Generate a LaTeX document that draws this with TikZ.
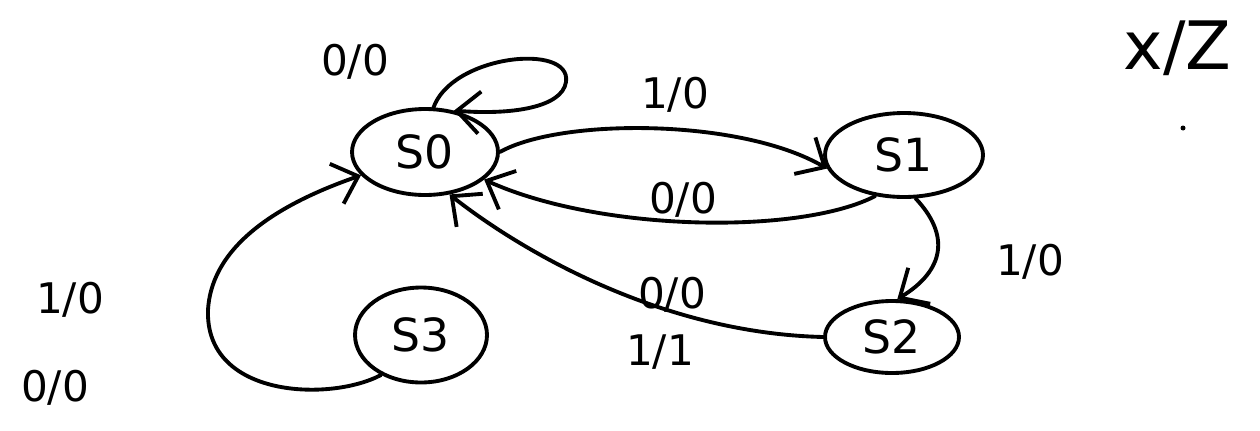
\documentclass[tikz,border=0pt]{standalone}
\usepackage{fontspec}
\setmainfont{DejaVu Sans}
\usetikzlibrary{shapes.geometric,arrows.meta}
\begin{document}
\begin{tikzpicture}[x=0.02cm,y=-0.02cm,
  line width=2.2pt, line cap=round, line join=round,
  state/.style={draw, ellipse, inner sep=0pt, font=\fontsize{26}{30}\selectfont},
  lbl/.style={font=\fontsize{24}{28}\selectfont, inner sep=0pt},
  arr/.style={-{Straight Barb[length=13pt,width=24pt,line width=2.2pt]}}]
\useasboundingbox (0,0) rectangle (1260,430);
\node[state, minimum width=2.92cm, minimum height=1.72cm] (s0) at (425,152) {S0};
\node[state, minimum width=3.16cm, minimum height=1.68cm] (s1) at (904,155) {S1};
\node[state, minimum width=2.68cm, minimum height=1.44cm] (s2) at (892,337) {S2};
\node[state, minimum width=2.64cm, minimum height=1.9cm] (s3) at (421,335) {S3};
% self loop on S0
\coordinate (l0) at (433,109);
\draw[arr] (l0) .. controls (450,55) and (572,42) .. (566,82) .. controls (562,108) and (510,115) .. (s0.55);
% S0 -> S1
\draw[arr] (s0.east) .. controls (560,118) and (740,118) .. (s1.190);
% S1 -> S0
\draw[arr] (s1.235) .. controls (800,235) and (600,232) .. (s0.-25);
% S1 -> S2
\draw[arr] (s1.-75) .. controls (950,235) and (945,270) .. (s2.82);
% S2 -> S0
\draw[arr] (s2.west) .. controls (660,333) and (520,250) .. (s0.-60);
% S3 -> S0
\coordinate (m3) at (208,310);
\draw (s3.-135) .. controls (330,402) and (205,398) .. (m3);
\draw[arr] (m3) .. controls (212,240) and (290,200) .. (s0.200);
% labels
\node[lbl] (t1) at (355,62) {0/0};
\node[lbl] (t2) at (675,95) {1/0};
\node[lbl] (t3) at (683,200) {0/0};
\node[lbl] (t4) at (1030,262) {1/0};
\node[lbl] (t5) at (672,295) {0/0};
\node[lbl] (t6) at (660,352) {1/1};
\node[lbl] (t7) at (70,300) {1/0};
\node[lbl] (t8) at (55,388) {0/0};
\node[lbl, font=\fontsize{38}{42}\selectfont, anchor=west] (t9) at (1122,48) {x/Z};
\fill (1183,128) circle (2.5);
\end{tikzpicture}
\end{document}
